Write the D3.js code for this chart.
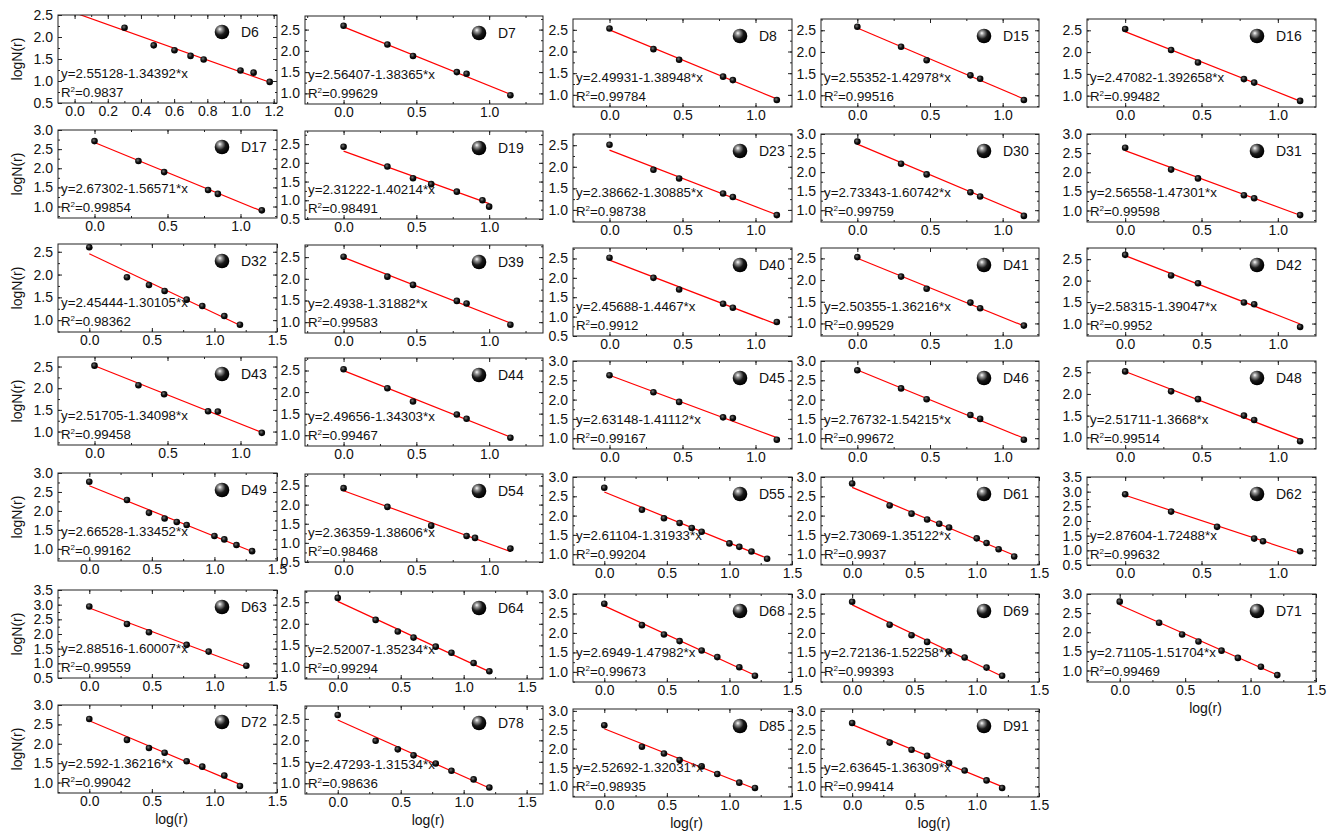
<!DOCTYPE html>
<html>
<head>
<meta charset="utf-8">
<script src="https://cdn.jsdelivr.net/npm/d3@7"></script>
<style>
  body { margin: 0; background: #fff; }
  text { font-family: "Liberation Sans", Arial, sans-serif; fill: #111; }
</style>
</head>
<body>
<svg id="chart" width="1338" height="837"></svg>
<script>
// ---- data ----
const samples = ["D6", "D7", "D8", "D15", "D16", "D17", "D19", "D23", "D30", "D31",
  "D32", "D39", "D40", "D41", "D42", "D43", "D44", "D45", "D46", "D48",
  "D49", "D54", "D55", "D61", "D62", "D63", "D64", "D68", "D69", "D71",
  "D72", "D78", "D85", "D91"];

const intercepts = [2.55128, 2.56407, 2.49931, 2.55352, 2.47082, 2.67302, 2.31222, 2.38662, 2.73343, 2.56558,
  2.45444, 2.4938, 2.45688, 2.50355, 2.58315, 2.51705, 2.49656, 2.63148, 2.76732, 2.51711,
  2.66528, 2.36359, 2.61104, 2.73069, 2.87604, 2.88516, 2.52007, 2.6949, 2.72136, 2.71105,
  2.592, 2.47293, 2.52692, 2.63645];

const slopes = [1.34392, 1.38365, 1.38948, 1.42978, 1.392658, 1.56571, 1.40214, 1.30885, 1.60742, 1.47301,
  1.30105, 1.31882, 1.4467, 1.36216, 1.39047, 1.34098, 1.34303, 1.41112, 1.54215, 1.3668,
  1.33452, 1.38606, 1.31933, 1.35122, 1.72488, 1.60007, 1.35234, 1.47982, 1.52258, 1.51704,
  1.36216, 1.31534, 1.32031, 1.36309];

const r2 = [0.9837, 0.99629, 0.99784, 0.99516, 0.99482, 0.99854, 0.98491, 0.98738, 0.99759, 0.99598,
  0.98362, 0.99583, 0.9912, 0.99529, 0.9952, 0.99458, 0.99467, 0.99167, 0.99672, 0.99514,
  0.99162, 0.98468, 0.99204, 0.9937, 0.99632, 0.99559, 0.99294, 0.99673, 0.99393, 0.99469,
  0.99042, 0.98636, 0.98935, 0.99414];

// log(r) sets used by the panels
const logR6 = [0, 0.301, 0.477, 0.778, 0.845, 1.146];
const logR6b = [0, 0.301, 0.602, 0.845, 0.903, 1.146];
const logR6c = [0, 0.301, 0.477, 0.778, 0.954, 1.255];
const logR7 = [0, 0.301, 0.477, 0.602, 0.778, 0.954, 1.0];
const logR8 = [0, 0.301, 0.477, 0.602, 0.778, 0.903, 1.079, 1.204];
const logR8b = [0.301, 0.477, 0.602, 0.699, 0.778, 1.0, 1.079, 1.176];
const logR10 = [0, 0.301, 0.477, 0.602, 0.699, 0.778, 1.0, 1.079, 1.176, 1.301];

const logRs = [logR8b, logR6, logR6, logR6, logR6, logR6, logR7, logR6, logR6, logR6,
  logR8, logR6, logR6, logR6, logR6, logR6, logR6, logR6, logR6, logR6,
  logR10, logR6b, logR10, logR10, logR6b, logR6c, logR8, logR8, logR8, logR8,
  logR8, logR8, logR8, logR8];

const logN = [
  [2.21, 1.81, 1.70, 1.57, 1.49, 1.24, 1.19, 0.98],
  [2.59, 2.15, 1.88, 1.50, 1.46, 0.955],
  [2.53, 2.055, 1.81, 1.42, 1.34, 0.88],
  [2.58, 2.12, 1.81, 1.46, 1.38, 0.89],
  [2.53, 2.05, 1.76, 1.38, 1.30, 0.88],
  [2.71, 2.19, 1.90, 1.43, 1.33, 0.90],
  [2.43, 1.90, 1.59, 1.43, 1.23, 1.0, 0.83],
  [2.51, 1.93, 1.73, 1.38, 1.30, 0.88],
  [2.80, 2.22, 1.94, 1.47, 1.36, 0.85],
  [2.64, 2.07, 1.84, 1.40, 1.32, 0.88],
  [2.60, 1.94, 1.77, 1.64, 1.45, 1.31, 1.09, 0.90],
  [2.51, 2.05, 1.86, 1.49, 1.43, 0.94],
  [2.52, 2.0, 1.70, 1.33, 1.23, 0.86],
  [2.53, 2.08, 1.80, 1.48, 1.35, 0.95],
  [2.60, 2.12, 1.94, 1.49, 1.45, 0.92],
  [2.52, 2.07, 1.86, 1.47, 1.46, 0.97],
  [2.53, 2.09, 1.78, 1.48, 1.38, 0.94],
  [2.63, 2.19, 1.94, 1.54, 1.52, 0.96],
  [2.76, 2.29, 2.01, 1.60, 1.50, 0.96],
  [2.52, 2.06, 1.88, 1.50, 1.40, 0.91],
  [2.77, 2.29, 1.95, 1.80, 1.71, 1.63, 1.34, 1.25, 1.10, 0.94],
  [2.43, 1.94, 1.45, 1.18, 1.13, 0.85],
  [2.72, 2.15, 1.93, 1.81, 1.68, 1.58, 1.28, 1.19, 1.07, 0.88],
  [2.83, 2.26, 2.05, 1.90, 1.79, 1.69, 1.41, 1.29, 1.13, 0.94],
  [2.91, 2.32, 1.80, 1.40, 1.31, 0.97],
  [2.94, 2.34, 2.06, 1.63, 1.40, 0.92],
  [2.60, 2.09, 1.82, 1.68, 1.47, 1.33, 1.09, 0.90],
  [2.75, 2.20, 1.96, 1.79, 1.55, 1.38, 1.12, 0.90],
  [2.80, 2.21, 1.94, 1.77, 1.53, 1.37, 1.11, 0.90],
  [2.80, 2.25, 1.94, 1.76, 1.52, 1.33, 1.10, 0.88],
  [2.64, 2.10, 1.89, 1.77, 1.55, 1.41, 1.18, 0.91],
  [2.59, 1.99, 1.79, 1.65, 1.46, 1.29, 1.09, 0.90],
  [2.62, 2.05, 1.87, 1.70, 1.53, 1.33, 1.10, 0.96],
  [2.68, 2.16, 1.97, 1.81, 1.62, 1.42, 1.16, 0.96]
];

// y axis ranges of each panel
const yRanges = [
  [0.5, 2.5], [0.75, 2.82], [0.72, 2.75], [0.73, 2.76], [0.74, 2.76],
  [0.7, 3.0], [0.5, 2.85], [0.72, 2.76], [0.69, 3.0], [0.7, 3.0],
  [0.74, 2.67], [0.75, 2.78], [0.5, 2.77], [0.71, 2.74], [0.71, 2.76],
  [0.69, 2.72], [0.75, 2.79], [0.72, 3.0], [0.72, 3.0], [0.73, 2.76],
  [0.68, 3.0], [0.5, 2.8], [0.72, 3.0], [0.72, 3.0], [0.5, 3.5],
  [0.5, 3.5], [0.72, 2.76], [0.74, 3.0], [0.74, 3.0], [0.7, 3.0],
  [0.73, 3.0], [0.75, 2.8], [0.72, 3.05], [0.72, 3.05]
];

// x axis kind: "c" 0-1.2 by 0.2, "a" 0-1.0 by 0.5, "b" 0-1.5 by 0.5
const xKinds = ["c", "a", "a", "a", "a", "a", "a", "a", "a", "a",
  "b", "a", "a", "a", "a", "a", "a", "a", "a", "a",
  "b", "a", "b", "b", "a", "b", "b", "b", "b", "b",
  "b", "b", "b", "b"];

// ---- layout ----
const colX = [[58, 277], [305, 543], [573, 792], [821, 1039], [1087, 1316]];
const rowTop = [15, 130, 244, 357, 473, 590, 705];
const colDy = [0, 1, 4, 4, 4];
const frameH = 88;
const legendOff = [55, 64, 52, 55, 59];

function xDomain(kind, col) {
  if (kind === "c") return [-0.1, 1.22];
  if (kind === "a") return col === 1 ? [-0.265, 1.37] : [-0.25, 1.25];
  return col === 1 ? [-0.26, 1.63] : [-0.25, 1.5];
}

const svg = d3.select("#chart");
const fmt = d3.format(".1f");
const defs = svg.append("defs");

const ball = defs.append("radialGradient").attr("id", "ball")
  .attr("cx", "38%").attr("cy", "35%").attr("r", "62%").attr("fx", "35%").attr("fy", "30%");
ball.append("stop").attr("offset", "0%").attr("stop-color", "#ffffff");
ball.append("stop").attr("offset", "22%").attr("stop-color", "#9a9a9a");
ball.append("stop").attr("offset", "60%").attr("stop-color", "#1a1a1a");
ball.append("stop").attr("offset", "100%").attr("stop-color", "#000");

const dot = defs.append("radialGradient").attr("id", "dot")
  .attr("cx", "40%").attr("cy", "38%").attr("r", "60%");
dot.append("stop").attr("offset", "0%").attr("stop-color", "#777");
dot.append("stop").attr("offset", "55%").attr("stop-color", "#111");
dot.append("stop").attr("offset", "100%").attr("stop-color", "#000");

function styleAxis(g, size) {
  g.select(".domain").remove();
  g.selectAll("line").attr("stroke", "#222");
  g.selectAll("text").attr("font-size", size).attr("font-family", "Liberation Sans, Arial, sans-serif").attr("fill", "#111");
}

samples.forEach((name, i) => {
  const row = Math.floor(i / 5), col = i % 5;
  const [left, right] = colX[col];
  const top = rowTop[row] + colDy[col];
  const bottom = top + frameH;
  const kind = xKinds[i];

  const x = d3.scaleLinear().domain(xDomain(kind, col)).range([left, right]);
  const y = d3.scaleLinear().domain(yRanges[i]).range([bottom, top]);

  const g = svg.append("g").attr("class", "panel");

  // ticks: majors with labels, minors halfway
  const xStep = kind === "c" ? 0.2 : 0.5;
  const xd = x.domain(), yd = y.domain();
  const xMajor = d3.range(0, xd[1] + 1e-6, xStep);
  const xMinor = d3.range(Math.ceil(xd[0] / (xStep / 2)) * (xStep / 2), xd[1], xStep / 2)
    .filter(v => v > xd[0] + 1e-6 && v < xd[1] - 1e-6);
  const yMajor = d3.range(Math.ceil(yd[0] * 2 - 1e-6) / 2, yd[1] + 1e-6, 0.5);
  const yMinor = d3.range(Math.ceil(yd[0] * 4) / 4, yd[1], 0.25)
    .filter(v => v > yd[0] + 1e-6 && v < yd[1] - 1e-6);

  const axes = [
    [d3.axisBottom(x).tickValues(xMajor).tickSize(-4).tickPadding(3).tickFormat(fmt), `translate(0,${bottom})`],
    [d3.axisBottom(x).tickValues(xMinor).tickSize(-2).tickFormat(""), `translate(0,${bottom})`],
    [d3.axisTop(x).tickValues(xMajor).tickSize(-4).tickFormat(""), `translate(0,${top})`],
    [d3.axisTop(x).tickValues(xMinor).tickSize(-2).tickFormat(""), `translate(0,${top})`],
    [d3.axisLeft(y).tickValues(yMajor).tickSize(-4).tickPadding(5).tickFormat(fmt), `translate(${left},0)`],
    [d3.axisLeft(y).tickValues(yMinor).tickSize(-2).tickFormat(""), `translate(${left},0)`],
    [d3.axisRight(y).tickValues(yMajor).tickSize(-4).tickFormat(""), `translate(${right},0)`],
    [d3.axisRight(y).tickValues(yMinor).tickSize(-2).tickFormat(""), `translate(${right},0)`]
  ];
  axes.forEach(([axis, tr]) => {
    g.append("g").attr("transform", tr).call(axis).call(a => styleAxis(a, 14));
  });

  g.append("clipPath").attr("id", `clip${i}`)
    .append("rect").attr("x", left).attr("y", top)
    .attr("width", right - left).attr("height", bottom - top);

  const xs = logRs[i];
  const pts = xs.map((v, k) => [v, logN[i][k]]);
  const fitEnds = [Math.min(0, xs[0]), d3.max(xs)];
  const fit = v => intercepts[i] - slopes[i] * v;

  const plot = g.append("g").attr("clip-path", `url(#clip${i})`);
  plot.append("path")
    .datum(fitEnds)
    .attr("fill", "none")
    .attr("stroke", "#ff0000")
    .attr("stroke-width", 1.2)
    .attr("d", d3.line().x(v => x(v)).y(v => y(fit(v))));

  plot.selectAll("circle.pt")
    .data(pts)
    .join("circle")
    .attr("class", "pt")
    .attr("cx", d => x(d[0]))
    .attr("cy", d => y(d[1]))
    .attr("r", 3.3)
    .attr("fill", "url(#dot)");

  // frame
  g.append("rect")
    .attr("x", left).attr("y", top)
    .attr("width", right - left).attr("height", bottom - top)
    .attr("fill", "none").attr("stroke", "#222").attr("stroke-width", 1);

  // legend ball and sample name
  const bx = right - legendOff[col];
  g.append("circle").attr("cx", bx).attr("cy", top + 17).attr("r", 7.3).attr("fill", "url(#ball)");
  g.append("text").attr("x", bx + 19).attr("y", top + 22).attr("font-size", 14).text(name);

  // fitted equation
  g.append("text").attr("x", left + 3).attr("y", bottom - 25).attr("font-size", 13.3)
    .text(`y=${intercepts[i]}-${slopes[i]}*x`);
  const rt = g.append("text").attr("x", left + 3).attr("y", bottom - 6).attr("font-size", 13.3);
  rt.append("tspan").text("R");
  rt.append("tspan").attr("dy", -5).attr("font-size", 8).text("2");
  rt.append("tspan").attr("dy", 5).text(`=${r2[i]}`);

  // axis titles
  if (col === 0) {
    g.append("text")
      .attr("transform", `translate(22,${(top + bottom) / 2}) rotate(-90)`)
      .attr("text-anchor", "middle").attr("font-size", 14).text("logN(r)");
  }
  if (i + 5 >= samples.length) {
    g.append("text")
      .attr("x", (left + right) / 2 + 4).attr("y", bottom + 31)
      .attr("text-anchor", "middle").attr("font-size", 14).text("log(r)");
  }
});
</script>
</body>
</html>
